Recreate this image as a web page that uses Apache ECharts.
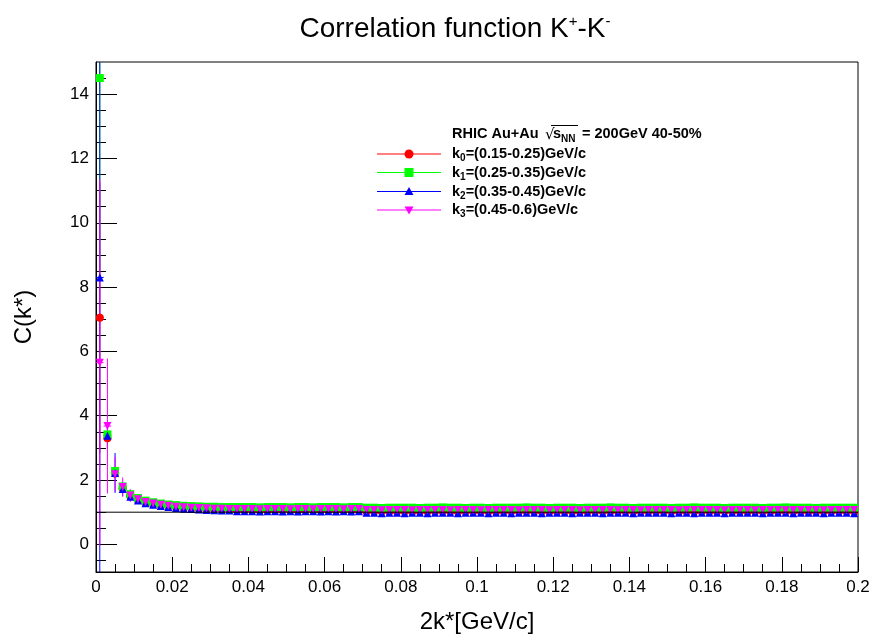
<!DOCTYPE html>
<html>
<head>
<meta charset="utf-8">
<script src="https://cdn.jsdelivr.net/npm/echarts@6/dist/echarts.min.js"></script>
<style>
html, body { margin: 0; padding: 0; background: #fff; }
#main { width: 877px; height: 641px; }
</style>
</head>
<body>
<div id="main"></div>
<script>
// bin centres of 2k* (GeV/c), bin width 0.002
const kstar = [
  0.001, 0.003, 0.005, 0.007, 0.009, 0.011, 0.013, 0.015, 0.017, 0.019,
  0.021, 0.023, 0.025, 0.027, 0.029, 0.031, 0.033, 0.035, 0.037, 0.039,
  0.041, 0.043, 0.045, 0.047, 0.049, 0.051, 0.053, 0.055, 0.057, 0.059,
  0.061, 0.063, 0.065, 0.067, 0.069, 0.071, 0.073, 0.075, 0.077, 0.079,
  0.081, 0.083, 0.085, 0.087, 0.089, 0.091, 0.093, 0.095, 0.097, 0.099,
  0.101, 0.103, 0.105, 0.107, 0.109, 0.111, 0.113, 0.115, 0.117, 0.119,
  0.121, 0.123, 0.125, 0.127, 0.129, 0.131, 0.133, 0.135, 0.137, 0.139,
  0.141, 0.143, 0.145, 0.147, 0.149, 0.151, 0.153, 0.155, 0.157, 0.159,
  0.161, 0.163, 0.165, 0.167, 0.169, 0.171, 0.173, 0.175, 0.177, 0.179,
  0.181, 0.183, 0.185, 0.187, 0.189, 0.191, 0.193, 0.195, 0.197, 0.199
]
const binHalf = 0.001

// C(k*) for k0 (red)
const c_k0 = [
  7.05, 3.30, 2.20, 1.74, 1.50, 1.38, 1.30, 1.25, 1.21, 1.18,
  1.15, 1.13, 1.12, 1.11, 1.10, 1.09, 1.08, 1.08, 1.06, 1.06,
  1.06, 1.05, 1.06, 1.05, 1.06, 1.05, 1.05, 1.06, 1.05, 1.05,
  1.05, 1.06, 1.05, 1.05, 1.05, 1.02, 1.02, 1.02, 1.02, 1.02,
  1.02, 1.01, 1.02, 1.02, 1.03, 1.02, 1.02, 1.01, 1.02, 1.02,
  1.02, 1.02, 1.01, 1.02, 1.02, 1.02, 1.03, 1.02, 1.02, 1.01,
  1.02, 1.02, 1.02, 1.01, 1.02, 1.02, 1.02, 1.02, 1.03, 1.02,
  1.02, 1.01, 1.02, 1.02, 1.02, 1.02, 1.01, 1.02, 1.02, 1.02,
  1.02, 1.02, 1.03, 1.02, 1.02, 1.01, 1.02, 1.02, 1.02, 1.02,
  1.02, 1.02, 1.02, 1.01, 1.02, 1.02, 1.02, 1.03, 1.02, 1.02
]
// k1 (green)
const c_k1 = [
  14.50, 3.42, 2.28, 1.80, 1.56, 1.44, 1.36, 1.31, 1.27, 1.24,
  1.22, 1.20, 1.19, 1.18, 1.17, 1.17, 1.16, 1.16, 1.16, 1.16,
  1.16, 1.15, 1.16, 1.16, 1.16, 1.15, 1.16, 1.16, 1.15, 1.16,
  1.16, 1.16, 1.15, 1.16, 1.16, 1.14, 1.14, 1.13, 1.14, 1.14,
  1.14, 1.14, 1.13, 1.14, 1.14, 1.15, 1.14, 1.14, 1.13, 1.14,
  1.14, 1.13, 1.14, 1.14, 1.14, 1.14, 1.15, 1.14, 1.14, 1.13,
  1.14, 1.14, 1.14, 1.13, 1.14, 1.14, 1.14, 1.15, 1.14, 1.14,
  1.13, 1.14, 1.14, 1.14, 1.14, 1.13, 1.14, 1.14, 1.15, 1.14,
  1.14, 1.14, 1.13, 1.14, 1.14, 1.14, 1.14, 1.13, 1.14, 1.14,
  1.15, 1.14, 1.14, 1.14, 1.13, 1.14, 1.14, 1.14, 1.14, 1.14
]
// k2 (blue)
const c_k2 = [
  8.30, 3.38, 2.22, 1.72, 1.48, 1.36, 1.28, 1.23, 1.19, 1.16,
  1.13, 1.11, 1.10, 1.08, 1.07, 1.06, 1.05, 1.05, 1.03, 1.03,
  1.03, 1.02, 1.03, 1.03, 1.02, 1.03, 1.02, 1.03, 1.03, 1.02,
  1.03, 1.02, 1.03, 1.02, 1.03, 0.98, 0.98, 0.97, 0.98, 0.98,
  0.97, 0.98, 0.98, 0.97, 0.98, 0.98, 0.98, 0.97, 0.98, 0.98,
  0.98, 0.97, 0.98, 0.98, 0.97, 0.98, 0.98, 0.98, 0.97, 0.98,
  0.98, 0.98, 0.97, 0.98, 0.98, 0.98, 0.97, 0.98, 0.98, 0.98,
  0.97, 0.98, 0.98, 0.98, 0.98, 0.97, 0.98, 0.98, 0.97, 0.98,
  0.98, 0.98, 0.97, 0.98, 0.98, 0.98, 0.98, 0.97, 0.98, 0.98,
  0.98, 0.97, 0.98, 0.98, 0.98, 0.97, 0.98, 0.98, 0.98, 0.97
]
// k3 (magenta)
const c_k3 = [
  5.65, 3.68, 2.18, 1.78, 1.52, 1.40, 1.32, 1.27, 1.23, 1.20,
  1.17, 1.15, 1.14, 1.13, 1.12, 1.11, 1.11, 1.10, 1.10, 1.10,
  1.10, 1.09, 1.10, 1.10, 1.10, 1.09, 1.10, 1.10, 1.09, 1.10,
  1.10, 1.10, 1.09, 1.10, 1.10, 1.07, 1.07, 1.06, 1.07, 1.07,
  1.07, 1.06, 1.07, 1.07, 1.07, 1.07, 1.06, 1.07, 1.07, 1.07,
  1.06, 1.07, 1.07, 1.07, 1.07, 1.06, 1.07, 1.07, 1.07, 1.06,
  1.07, 1.07, 1.07, 1.06, 1.07, 1.07, 1.07, 1.07, 1.06, 1.07,
  1.07, 1.06, 1.07, 1.07, 1.07, 1.07, 1.06, 1.07, 1.07, 1.07,
  1.07, 1.07, 1.06, 1.07, 1.07, 1.07, 1.06, 1.07, 1.07, 1.07,
  1.06, 1.07, 1.07, 1.07, 1.07, 1.06, 1.07, 1.07, 1.07, 1.07
]
// statistical errors of the first bins (the rest are smaller than the markers)
const err_k0 = [4.20, 0.30, 0.14, 0.09, 0.06, 0.05, 0.04, 0.03, 0.03, 0.02]
const err_k1 = [6.00, 0.28, 0.13, 0.08, 0.06, 0.05, 0.04, 0.03, 0.03, 0.02]
const err_k2 = [9.60, 0.40, 0.62, 0.22, 0.13, 0.09, 0.06, 0.05, 0.04, 0.03]
const err_k3 = [5.70, 2.10, 0.54, 0.30, 0.20, 0.12, 0.08, 0.06, 0.05, 0.04]

const yMajorTicks = [0, 2, 4, 6, 8, 10, 12, 14]
const yMinorTicks = [-0.5, 0.5, 1, 1.5, 2.5, 3, 3.5, 4.5, 5, 5.5, 6.5, 7, 7.5, 8.5, 9, 9.5,
  10.5, 11, 11.5, 12.5, 13, 13.5, 14.5]

const histos = [
  { name: 'k0', vals: c_k0, errs: err_k0, color: '#ff0000', symbol: 'circle', size: 8, rotate: 0,
    label: '{t|k}{sub|0}{t|=(0.15-0.25)GeV/c}' },
  { name: 'k1', vals: c_k1, errs: err_k1, color: '#00ff00', symbol: 'rect', size: 8, rotate: 0,
    label: '{t|k}{sub|1}{t|=(0.25-0.35)GeV/c}' },
  { name: 'k2', vals: c_k2, errs: err_k2, color: '#0000ff', symbol: 'triangle', size: 8, rotate: 0,
    label: '{t|k}{sub|2}{t|=(0.35-0.45)GeV/c}' },
  { name: 'k3', vals: c_k3, errs: err_k3, color: '#ff00ff', symbol: 'triangle', size: 8, rotate: 180,
    label: '{t|k}{sub|3}{t|=(0.45-0.6)GeV/c}' }
]

const FONT = 'Liberation Sans'
const chart = echarts.init(document.getElementById('main'))

function errRender(color) {
  return function (params, api) {
    const x = api.value(0), y = api.value(1), e = api.value(2)
    const top = api.coord([x, y + e]), bot = api.coord([x, y - e])
    const l = api.coord([x - binHalf, y]), r = api.coord([x + binHalf, y])
    const style = { stroke: color, lineWidth: 1 }
    return {
      type: 'group',
      children: [
        { type: 'line', shape: { x1: top[0], y1: top[1], x2: bot[0], y2: bot[1] }, style: style },
        { type: 'line', shape: { x1: l[0], y1: l[1], x2: r[0], y2: r[1] }, style: style }
      ]
    }
  }
}

let series = [{
  type: 'line',
  data: [[0, 1], [0.2, 1]],
  symbol: 'none',
  lineStyle: { color: '#000', width: 1 },
  silent: true
}]
histos.forEach(function (h) {
  series.push({
    type: 'custom',
    clip: true,
    silent: true,
    renderItem: errRender(h.color),
    data: kstar.map(function (x, i) { return [x, h.vals[i], h.errs[i] || 0] })
  })
  series.push({
    type: 'scatter',
    name: h.name,
    symbol: h.symbol,
    symbolSize: h.size,
    symbolRotate: h.rotate,
    itemStyle: { color: h.color, opacity: 1 },
    clip: true,
    silent: true,
    data: kstar.map(function (x, i) { return [x, h.vals[i]] })
  })
})

// legend drawn like the ROOT TLegend
const legendX = 452, lineX1 = 377, lineX2 = 441, markX = 409
const rowY = [154, 172.5, 191.5, 210]
const boldText = { fontSize: 14.5, fontWeight: 'bold', fontFamily: FONT, fill: '#000' }
const boldSub = { fontSize: 10, fontWeight: 'bold', fontFamily: FONT, fill: '#000', padding: [9, 0, 0, 0] }
let graphics = [
  {
    type: 'text',
    style: {
      text: '{a|Correlation function K}{s|+}{a|-K}{s|-}',
      x: 455, y: 29, textAlign: 'center', textVerticalAlign: 'middle',
      rich: {
        a: { fontSize: 28, fontFamily: FONT, fill: '#000' },
        s: { fontSize: 15, fontFamily: FONT, fill: '#000', padding: [0, 0, 14, 0] }
      }
    }
  },
  { type: 'text', style: Object.assign({ text: 'RHIC Au+Au', x: legendX, y: 134, textVerticalAlign: 'middle' }, boldText) },
  { type: 'text', style: { text: '\u221A', x: 545, y: 135, textVerticalAlign: 'middle', fontSize: 15, fontFamily: 'DejaVu Sans', fill: '#000' } },
  { type: 'text', style: Object.assign({ text: 's', x: 553, y: 134, textVerticalAlign: 'middle' }, boldText) },
  { type: 'text', style: { text: 'NN', x: 561, y: 139, textVerticalAlign: 'middle', fontSize: 10, fontWeight: 'bold', fontFamily: FONT, fill: '#000' } },
  { type: 'text', style: Object.assign({ text: '= 200GeV 40-50%', x: 582, y: 134, textVerticalAlign: 'middle' }, boldText) },
  { type: 'line', shape: { x1: 551, y1: 125.5, x2: 578, y2: 125.5 }, style: { stroke: '#000', lineWidth: 1 } }
]
histos.forEach(function (h, i) {
  const y = rowY[i]
  graphics.push({ type: 'line', shape: { x1: lineX1, y1: y, x2: lineX2, y2: y }, style: { stroke: h.color, lineWidth: 1 } })
  let mark
  if (h.symbol === 'circle') {
    mark = { type: 'circle', shape: { cx: markX, cy: y, r: 4.5 }, style: { fill: h.color } }
  } else if (h.symbol === 'rect') {
    mark = { type: 'rect', shape: { x: markX - 4.5, y: y - 4.5, width: 9, height: 9 }, style: { fill: h.color } }
  } else if (h.rotate === 0) {
    mark = { type: 'polygon', shape: { points: [[markX, y - 4.5], [markX + 4.5, y + 3.5], [markX - 4.5, y + 3.5]] }, style: { fill: h.color } }
  } else {
    mark = { type: 'polygon', shape: { points: [[markX, y + 4.5], [markX + 4.5, y - 3.5], [markX - 4.5, y - 3.5]] }, style: { fill: h.color } }
  }
  graphics.push(mark)
  graphics.push({
    type: 'text',
    style: {
      text: h.label, x: legendX, y: y, textVerticalAlign: 'middle',
      rich: { t: boldText, sub: boldSub }
    }
  })
})

const option = {
  backgroundColor: '#fff',
  animation: false,
  grid: {
    left: 96, right: 19, top: 62, bottom: 69,
    outerBoundsMode: 'none',
    show: true, borderColor: '#000', borderWidth: 1, backgroundColor: 'transparent'
  },
  xAxis: {
    type: 'value', min: 0, max: 0.2, interval: 0.02,
    name: '2k*[GeV/c]', nameLocation: 'middle', nameGap: 38,
    nameTextStyle: { fontSize: 24, fontFamily: FONT, color: '#000' },
    axisLine: { show: true, onZero: false, lineStyle: { color: '#000', width: 1 } },
    axisTick: { show: true, inside: true, length: 15, lineStyle: { color: '#000' } },
    minorTick: { show: true, splitNumber: 4, length: 8, lineStyle: { color: '#000' } },
    axisLabel: { fontSize: 17, fontFamily: FONT, color: '#000', margin: 7, showMinLabel: true, showMaxLabel: true },
    splitLine: { show: false }
  },
  yAxis: [
    {
      type: 'value', min: -0.86, max: 15, position: 'left',
      name: 'C(k*)', nameLocation: 'middle', nameGap: 60, nameRotate: 90,
      nameTextStyle: { fontSize: 24, fontFamily: FONT, color: '#000' },
      axisLine: { show: true, onZero: false, lineStyle: { color: '#000', width: 1 } },
      axisTick: { show: true, inside: true, length: 21, customValues: yMajorTicks, lineStyle: { color: '#000' } },
      axisLabel: { fontSize: 17, fontFamily: FONT, color: '#000', margin: 7, customValues: yMajorTicks },
      splitLine: { show: false }
    },
    {
      type: 'value', min: -0.86, max: 15, position: 'left', offset: 0,
      axisLine: { show: false },
      axisTick: { show: true, inside: true, length: 10, customValues: yMinorTicks, lineStyle: { color: '#000' } },
      axisLabel: { show: false },
      splitLine: { show: false }
    }
  ],
  graphic: graphics,
  series: series
}
chart.setOption(option)
</script>
</body>
</html>
